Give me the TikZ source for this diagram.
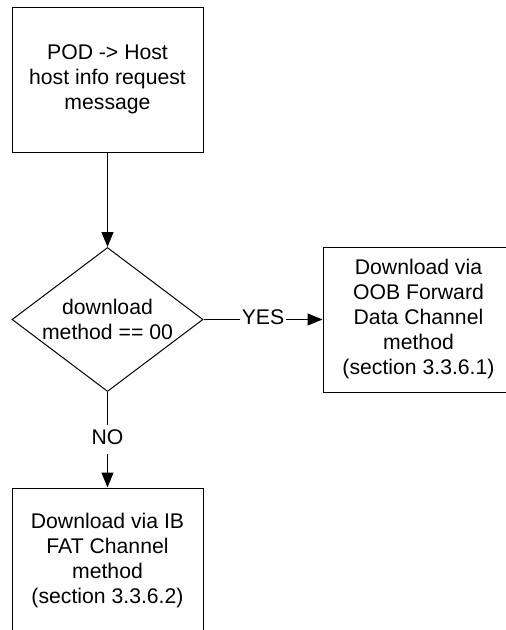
\documentclass[tikz,border=0pt]{standalone}
\usepackage{fontspec}
\setmainfont{Liberation Sans}
\usetikzlibrary{shapes.geometric,arrows.meta}
\begin{document}
\begin{tikzpicture}[x=1pt,y=1pt,
  txt/.style={font=\fontsize{21.2}{25}\selectfont, align=center, text=black},
  procbox/.style={txt, draw=black, line width=1pt, minimum width=191pt, minimum height=145pt, inner sep=0pt},
  decision/.style={draw=black, line width=1pt, shape=diamond, minimum width=191pt, minimum height=144pt, inner sep=0pt},
  conn/.style={draw=black, line width=1pt, -{Triangle[length=15pt,width=12pt]}},
  lbl/.style={txt, fill=white, inner xsep=2pt, inner ysep=2pt}
]
\clip (0,0) rectangle (506,-630);
\fill[white] (0,0) rectangle (506,-630);
\node[procbox] (top) at (107.5,-79.5) {POD -> Host\\host info request\\message};
\node[decision] (dec) at (107.5,-319.5) {};
\node[txt, inner sep=0pt] (dect) at (dec.center) {download\\method == 00};
\node[procbox] (oob) at (418.5,-319.5) {Download via\\OOB Forward\\Data Channel\\method\\(section 3.3.6.1)};
\node[procbox] (ib) at (107.5,-560.5) {Download via IB\\FAT Channel\\method\\(section 3.3.6.2)};
\draw[conn] (top.south) -- (dec.north);
\draw[conn] (dec.east) -- node[lbl] (yes) {\strut YES} (oob.west);
\draw[conn] (dec.south) -- node[lbl] (no) {\strut NO} (ib.north);
\end{tikzpicture}
\end{document}
